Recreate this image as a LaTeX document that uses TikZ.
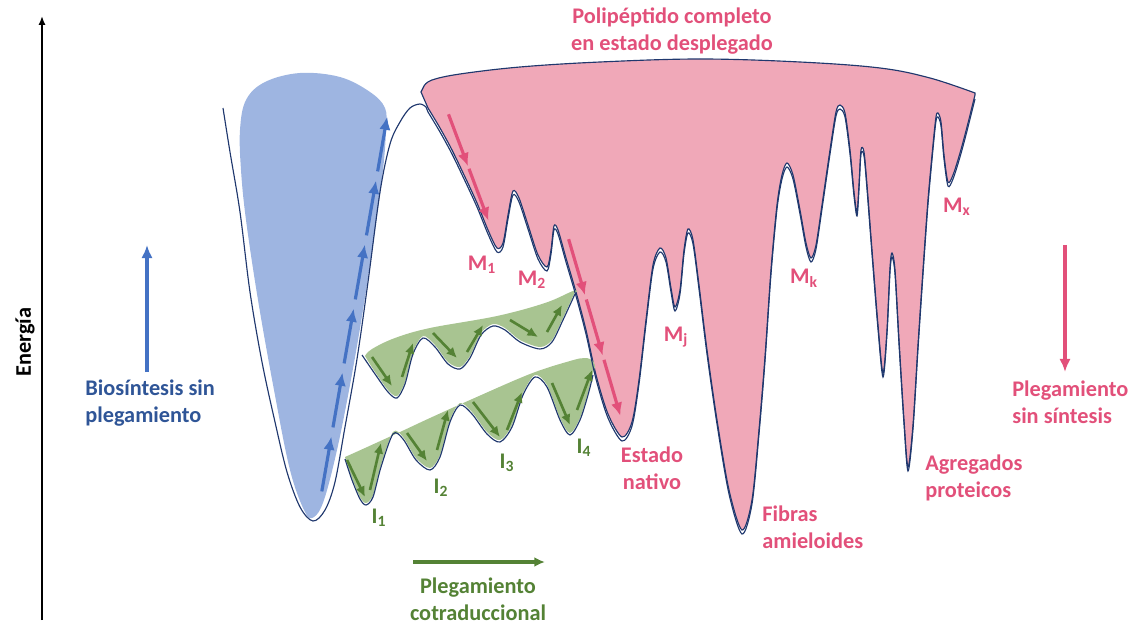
\documentclass[tikz,border=0pt]{standalone}
\usepackage{fontspec}
\setmainfont{Carlito}
\usetikzlibrary{calc,arrows.meta}

\definecolor{navy}{RGB}{32,56,110}
\definecolor{bluefill}{RGB}{158,181,225}
\definecolor{bluearr}{RGB}{68,114,196}
\definecolor{bluetext}{RGB}{47,85,151}
\definecolor{pinkfill}{RGB}{240,168,184}
\definecolor{pinkdark}{RGB}{226,80,122}
\definecolor{greenfill}{RGB}{168,196,145}
\definecolor{greendark}{RGB}{84,130,53}

% dashed arrow: style, from, to, number of pieces
\newcommand{\arrowdashes}[4]{%
  \foreach \k [evaluate=\k as \a using (\k-1)/#4+0.012,
               evaluate=\k as \b using \k/#4-0.012] in {1,...,#4}
    {\draw[#1] ($(#2)!\a!(#3)$) -- ($(#2)!\b!(#3)$);}}

% lower edge of the folding funnel
\tikzset{pinkedge/.style={insert path={-- plot[smooth,tension=0.5] coordinates {
  (428,108) (440,128) (452,150) (465,177) (477,203) (488,230) (497,248)
  (503,243) (508,215) (513,191) (519,198) (528,225) (538,255) (547,267)
  (551,250) (554,226) (558,230) (566,258) (576,292) (586,330) (596,375)
  (608,414) (622,437) (632,422) (639,380) (646,320) (653,265) (660,248)
  (666,258) (671,288) (675,307) (680,290) (684,250) (688,229) (693,240)
  (699,285) (707,350) (717,420) (729,490) (742,530) (752,500) (759,430)
  (765,357) (771,270) (777,205) (782,175) (787,163) (793,175) (800,210)
  (806,243) (811,258) (816,245) (822,205) (830,150) (836,112) (840,105)
  (845,113) (850,150) (854,192) (857,212) (859,185) (861,150) (864,152)
  (867,185) (872,250) (878,325) (883,373) (887,330) (890,268) (892,253)
  (895,270) (899,340) (904,420) (908,467) (913,425) (918,345) (923,270)
  (928,200) (933,145) (936,117) (938,113) (941,122) (944,155) (948,182)
  (953,175) (960,153) (967,127) (973,103) (975,95)}}}}

\begin{document}
\begin{tikzpicture}[x=0.02cm,y=-0.02cm,>={Latex[length=7.5pt,width=6.5pt]},
    lbl/.style={font=\fontsize{12.7}{15.3}\selectfont\bfseries,inner sep=0pt},
    navyline/.style={draw=navy,line width=0.65pt},
    bluearrow/.style={->,draw=bluearr,line width=1.8pt},
    pinkarrow/.style={->,draw=pinkdark,line width=1.8pt},
    greenarrow/.style={-{Latex[length=6pt,width=5.5pt]},draw=greendark,line width=1.5pt}]
  \useasboundingbox (0,0) rectangle (1134,625);

  % energy axis
  \coordinate (axbot) at (42,620);
  \coordinate (axtop) at (42,16);
  \draw[-{Latex[length=5pt,width=4pt]},line width=1.1pt] (axbot) -- (axtop);
  \node[lbl,rotate=90] (energia) at (25,342) {Energía};

  % biosynthesis well
  \fill[bluefill] plot[smooth cycle,tension=0.6] coordinates {
    (240,130) (246,100) (265,82) (300,73) (340,77) (370,92) (385,108)
    (386,130) (383,170) (375,230) (363,310) (350,385) (337,450)
    (324,500) (314,517) (305,512) (290,470) (274,390) (258,300) (246,220)
    (241,170)};

  % funnel
  \filldraw[fill=pinkfill,navyline] (421,92) [pinkedge]
    -- plot[smooth,tension=0.6] coordinates {(975,93) (930,78) (880,68)
       (800,62) (700,59) (600,62) (520,67) (460,74) (432,80) (424,86)}
    -- cycle;

  % cotranslational bands
  \fill[greenfill] plot[smooth,tension=0.6] coordinates {(365,356) (372,349)
      (395,338) (430,328) (497,316) (545,303) (573,291) (577,292)}
    -- plot[smooth,tension=0.5] coordinates {(575,292) (563,318) (552,340)
      (540,347) (520,340) (505,328) (493,324) (481,333) (470,356) (460,367)
      (448,362) (435,345) (423,336) (413,352) (405,382) (397,396) (388,390)
      (375,372) (365,356)} -- cycle;
  \fill[greenfill] plot[smooth,tension=0.6] coordinates {(345,457) (365,448)
      (400,432) (430,418) (470,400) (530,374) (570,361) (585,358) (593,361)
      (595,367)}
    -- plot[smooth,tension=0.5] coordinates {(593,373) (588,393) (580,418)
      (570,433) (560,418) (547,385) (535,375) (523,393) (512,425) (500,440)
      (487,432) (472,412) (460,403) (450,420) (440,455) (430,468) (416,458)
      (403,437) (393,432) (381,465) (373,495) (366,503) (360,497) (352,478)
      (345,457)} -- cycle;

  % energy landscape
  \begin{scope}[yshift=-0.08cm]
    \draw[navyline] plot[smooth,tension=0.55] coordinates {(223,104)
      (230,148) (240,208) (250,288) (262,358) (275,418) (287,468) (300,503)
      (313,517) (325,506) (335,478) (345,423) (357,355) (368,278) (380,188)
      (390,140) (400,118) (410,104) (420,100) (426,103)} [pinkedge];
    \draw[navyline] plot[smooth,tension=0.5] coordinates {(362,351)
      (375,370) (388,388) (397,394) (405,380) (413,350) (423,334) (435,343)
      (448,360) (460,365) (470,354) (481,331) (493,322) (505,326) (520,338)
      (540,345) (552,338) (563,316) (575,290)};
    \draw[navyline] plot[smooth,tension=0.5] coordinates {(345,455)
      (352,476) (360,495) (366,501) (373,493) (381,463) (393,430) (403,435)
      (416,456) (430,466) (440,453) (450,418) (460,401) (472,410) (487,430)
      (500,438) (512,423) (523,391) (535,373) (547,383) (560,416) (570,431)
      (580,416) (588,391) (593,371)};
  \end{scope}

  % dashed paths
  \coordinate (bioA) at (321,496);
  \coordinate (bioB) at (388,112);
  \arrowdashes{bluearrow}{bioA}{bioB}{6}
  \coordinate (unfA) at (448,113);
  \coordinate (unfB) at (489,222);
  \arrowdashes{pinkarrow}{unfA}{unfB}{2}
  \coordinate (natA) at (568,237);
  \coordinate (natB) at (621,418);
  \arrowdashes{pinkarrow}{natA}{natB}{3}

  % steps down and up the small wells
  \foreach \xa/\ya/\xb/\yb in {347/460/365/497, 370/490/381/443,
      407/433/427/461, 437/450/448/410, 473/402/500/437, 507/430/522/392,
      552/383/570/425, 577/410/592/370, 372/357/392/386, 402/377/413/343,
      433/333/457/358, 467/352/483/325, 510/320/538/337, 547/332/562/305}
    \draw[greenarrow] (\xa,\ya) -- (\xb,\yb);

  % legend arrows
  \coordinate (bioup0) at (147,372);
  \coordinate (bioup1) at (147,245);
  \draw[bluearrow] (bioup0) -- (bioup1);
  \coordinate (pleg0) at (1065,245);
  \coordinate (pleg1) at (1065,372);
  \draw[pinkarrow] (pleg0) -- (pleg1);
  \coordinate (cot0) at (413,562);
  \coordinate (cot1) at (545,562);
  \draw[greenarrow,line width=1.8pt] (cot0) -- (cot1);

  % labels
  \node[lbl,text=pinkdark,align=center] (unfolded) at (672,31)
    {Polipéptido completo\\en estado desplegado};
  \node[lbl,text=bluetext,align=left,anchor=west] (bio) at (85,403)
    {Biosíntesis sin\\plegamiento};
  \node[lbl,text=pinkdark,align=left,anchor=west] (plegsin) at (1012,402)
    {Plegamiento\\sin síntesis};
  \node[lbl,text=greendark,align=center] (cotrad) at (478,599)
    {Plegamiento\\cotraduccional};
  \node[lbl,text=pinkdark,align=center] (nativo) at (652,468)
    {Estado\\nativo};
  \node[lbl,text=pinkdark,align=left,anchor=west] (fibras) at (762,527)
    {Fibras\\amieloides};
  \node[lbl,text=pinkdark,align=left,anchor=west] (agreg) at (925,478)
    {Agregados\\proteicos};

  \node[lbl,text=pinkdark] (m1) at (482,265) {M\textsubscript{1}};
  \node[lbl,text=pinkdark] (m2) at (532,280) {M\textsubscript{2}};
  \node[lbl,text=pinkdark] (mj) at (676,337) {M\textsubscript{j}};
  \node[lbl,text=pinkdark] (mk) at (804,278) {M\textsubscript{k}};
  \node[lbl,text=pinkdark] (mx) at (957,207) {M\textsubscript{x}};
  \node[lbl,text=greendark] (i1) at (379,518) {I\textsubscript{1}};
  \node[lbl,text=greendark] (i2) at (441,488) {I\textsubscript{2}};
  \node[lbl,text=greendark] (i3) at (507,463) {I\textsubscript{3}};
  \node[lbl,text=greendark] (i4) at (584,448) {I\textsubscript{4}};
\end{tikzpicture}
\end{document}
